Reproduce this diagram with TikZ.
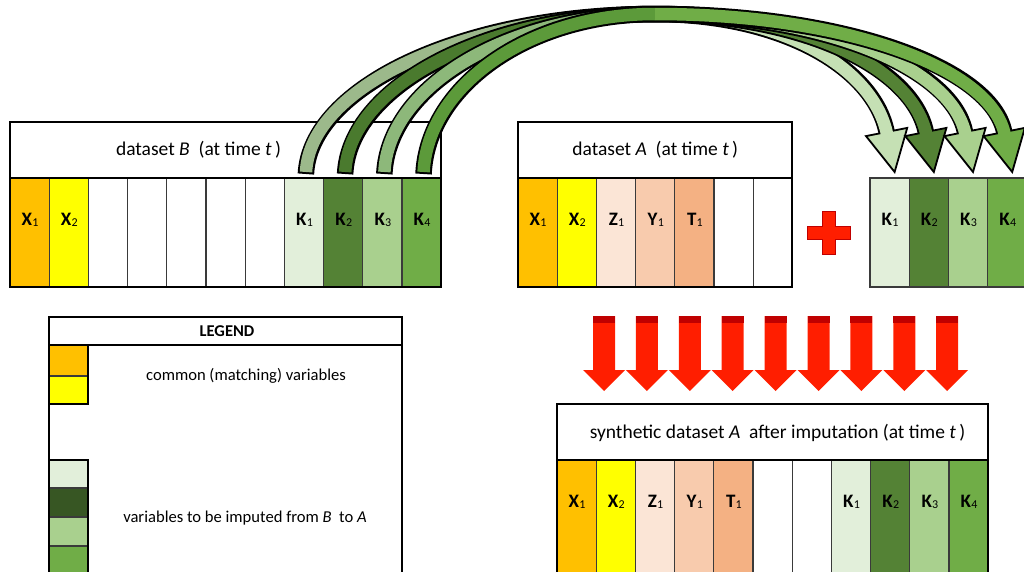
\documentclass[tikz,border=0pt]{standalone}
\usepackage{fontspec}
\setmainfont{Carlito}
\usetikzlibrary{calc}
\definecolor{cOr}{HTML}{FFC000}
\definecolor{cYe}{HTML}{FFFF00}
\definecolor{cZ}{HTML}{FBE5D6}
\definecolor{cY}{HTML}{F8CBAD}
\definecolor{cT}{HTML}{F4B183}
\definecolor{cK1}{HTML}{E2EFDA}
\definecolor{cK2}{HTML}{548235}
\definecolor{cK3}{HTML}{A9D08E}
\definecolor{cK4}{HTML}{70AD47}
\definecolor{cKd}{HTML}{375623}
\definecolor{hK1}{HTML}{C5E0B4}
\definecolor{gL1}{HTML}{9CB98B}
\definecolor{gL2}{HTML}{4A7A2E}
\definecolor{gL3}{HTML}{8DB87A}
\definecolor{gL4}{HTML}{5C9A3A}
\definecolor{colline}{HTML}{3A3A3A}
\definecolor{redA}{HTML}{FF1E00}
\definecolor{redD}{HTML}{C00000}
\newcommand\vl[2]{\textbf{#1}\kern0.3pt\raisebox{-0.02em}{\fontsize{12}{12}\selectfont #2}}
\newcommand\colrow[5]{%
  \foreach \c/\t [count=\i] in {#5} {
    \node[col, fill=\c, minimum height=#4] (#1\i) at ({#2+39.2*(\i-1)},#3) {};
    \node[vlabel] (#1l\i) at ($(#1\i.north)+(0.5,42)$) {\t};
  }}
\begin{document}
\begin{tikzpicture}[x=1pt,y=-1pt,
  col/.style={draw=colline, line width=1.2pt, minimum width=39.2pt, inner sep=0pt, outer sep=0pt, anchor=north west},
  vlabel/.style={font=\fontsize{19}{19}\selectfont, inner sep=0pt},
  hdr/.style={draw=black, line width=2pt, inner sep=0pt, outer sep=0pt, anchor=north west, minimum height=56pt, fill=white},
  frame/.style={draw=black, line width=2pt, inner sep=0pt, outer sep=0pt, anchor=north west},
  htext/.style={font=\fontsize{19.5}{19.5}\selectfont, inner sep=0pt},
  ltext/.style={font=\fontsize{16.6}{16.6}\selectfont, inner sep=0pt},
  sq/.style={draw=colline, line width=1.2pt, minimum width=39pt, inner sep=0pt, outer sep=0pt, anchor=north west},
]
\useasboundingbox (0,0) rectangle (1024,571);
\clip (0,0) rectangle (1024,571);

% dataset B
\colrow{B}{10}{178}{109pt}{cOr/{\vl{X}{1}},cYe/{\vl{X}{2}},white/{},white/{},white/{},white/{},white/{},cK1/{\vl{K}{1}},cK2/{\vl{K}{2}},cK3/{\vl{K}{3}},cK4/{\vl{K}{4}}}
\node[hdr, minimum width=431.2pt] (Bh) at (10,122) {};
\node[htext] (Bt) at (198.5,150) {dataset \textit{B}\ \ (at time \textit{t}\,)};
\node[frame, minimum width=431.2pt, minimum height=165pt] (Bf) at (10,122) {};

% dataset A
\colrow{A}{518}{178}{109pt}{cOr/{\vl{X}{1}},cYe/{\vl{X}{2}},cZ/{\vl{Z}{1}},cY/{\vl{Y}{1}},cT/{\vl{T}{1}},white/{},white/{}}
\node[hdr, minimum width=274.4pt] (Ah) at (518,122) {};
\node[htext] (At) at (Ah.center) {dataset \textit{A}\ \ (at time \textit{t}\,)};
\node[frame, minimum width=274.4pt, minimum height=165pt] (Af) at (518,122) {};

% plus
\filldraw[fill=redA, draw=redD, line width=1pt] (807,226) -- (822,226) -- (822,211) -- (835,211) -- (835,226) -- (850,226) -- (850,239) -- (835,239) -- (835,254) -- (822,254) -- (822,239) -- (807,239) -- cycle;

% imputed K box
\colrow{R}{870}{178}{109pt}{cK1/{\vl{K}{1}},cK2/{\vl{K}{2}},cK3/{\vl{K}{3}},cK4/{\vl{K}{4}}}

% legend
\node[frame, minimum width=353pt, minimum height=300pt] (Lf) at (49,317) {};
\node[frame, minimum width=353pt, minimum height=28pt] (Lh) at (49,317) {};
\node[font=\fontsize{16.5}{16.5}\selectfont\bfseries, inner sep=0pt] (Lt) at (227,331) {LEGEND};
\node[sq, fill=cOr, minimum height=31pt] (L1) at (49,345) {};
\node[sq, fill=cYe, minimum height=28pt] (L2) at (49,376) {};
\node[frame, minimum width=39pt, minimum height=59pt] (Lg1) at (49,345) {};
\node[ltext] (Lc) at (246,376) {common (matching) variables};
\node[sq, fill=cK1, minimum height=28pt] (L3) at (49,460) {};
\node[sq, fill=cKd, minimum height=29pt] (L4) at (49,488) {};
\node[sq, fill=cK3, minimum height=29pt] (L5) at (49,517) {};
\node[sq, fill=cK4, minimum height=60pt] (L6) at (49,546) {};
\node[frame, minimum width=39pt, minimum height=150pt] (Lg2) at (49,460) {};
\node[ltext] (Lv) at (245,518) {variables to be imputed from \textit{B}\ \ to \textit{A}};

% red arrows
\foreach \j in {0,...,8} {
  \pgfmathsetmacro\cx{604+42.9*\j}
  \fill[redA] ({\cx-11},316) -- ({\cx+11},316) -- ({\cx+11},370) -- ({\cx+21},370) -- (\cx,391) -- ({\cx-21},370) -- ({\cx-11},370) -- cycle;
  \fill[redD] ({\cx-11},316) rectangle ({\cx+11},323);
}

% synthetic dataset
\colrow{S}{557}{460}{160pt}{cOr/{\vl{X}{1}},cYe/{\vl{X}{2}},cZ/{\vl{Z}{1}},cY/{\vl{Y}{1}},cT/{\vl{T}{1}},white/{},white/{},cK1/{\vl{K}{1}},cK2/{\vl{K}{2}},cK3/{\vl{K}{3}},cK4/{\vl{K}{4}}}
\node[hdr, minimum width=431.2pt] (Sh) at (557,404) {};
\node[htext] (St) at (777.5,433) {synthetic dataset \textit{A}\ \ after imputation (at time \textit{t}\,)};
\node[frame, minimum width=431.2pt, minimum height=220pt] (Sf) at (557,404) {};

% curved arrows
\coordinate (apex) at (655,14);
\foreach \n/\ka/\kb/\cl/\cr [evaluate=\n as \m using {int(\n+7)}] in {1/192/128/gL1/hK1,2/171/149/gL2/cK2,3/149/170/gL3/cK3,4/128/191/gL4/cK4}{
  \coordinate (t\n) at ($(B\m.north)+(2,-6)$);
  \coordinate (h\n) at ($(R\n.north)+(5,-6)$);
  \coordinate (b\n) at ($(h\n)+(-8,-40)$);
  \draw[line width=16.5pt, black, shorten <=-2pt] (t\n) .. controls +(4,-85) and +(-\ka,0) .. (apex) .. controls +(\kb,0) and +(-13,-64) .. (b\n);
  \filldraw[fill=\cr, draw=black, line width=1.8pt, line join=miter] ($(h\n)+(-28.6,-35.9)$) -- (h\n) -- ($(h\n)+(12.6,-44.1)$) -- cycle;
  \draw[line width=12.5pt, \cl] (t\n) .. controls +(4,-85) and +(-\ka,0) .. (apex);
  \draw[line width=12.5pt, \cr, shorten >=-2.5pt] (apex) .. controls +(\kb,0) and +(-13,-64) .. (b\n);
}
\end{tikzpicture}
\end{document}
